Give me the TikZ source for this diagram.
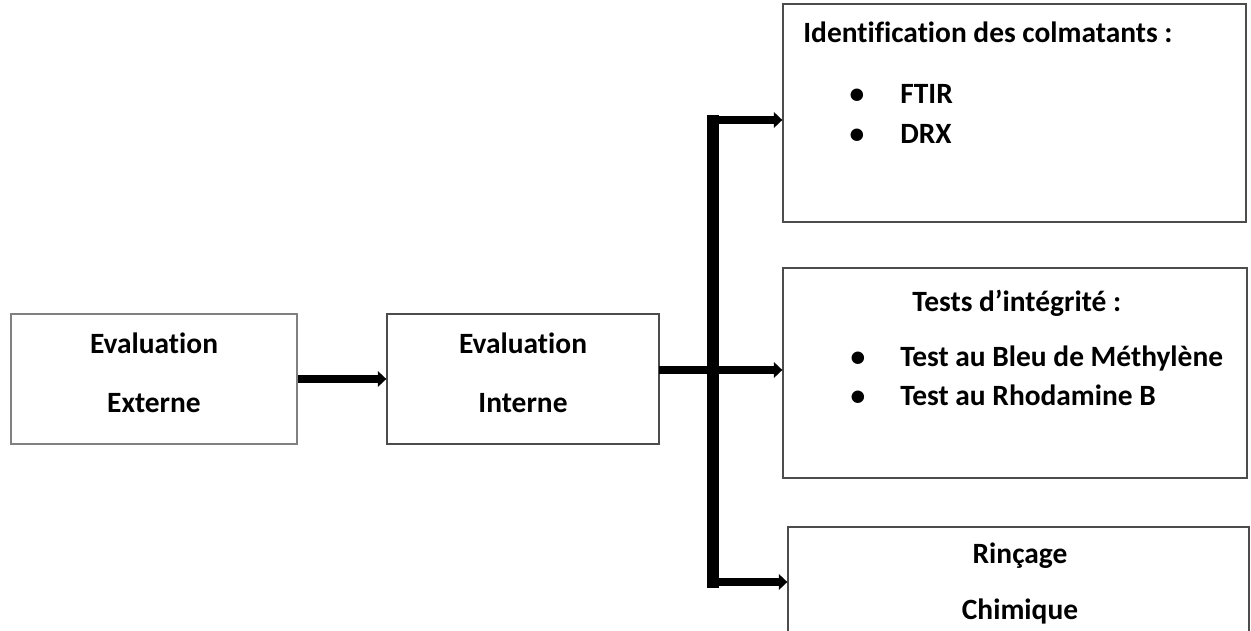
\documentclass[tikz,border=0pt]{standalone}
\usepackage{fontspec}
\setmainfont{Carlito}[Ligatures=CommonOff]
\usepackage{tikz}
\usetikzlibrary{arrows.meta}

\tikzset{
  box/.style={draw=black!70, line width=0.8pt, rectangle, inner sep=0pt},
  lbl/.style={anchor=base, inner sep=0pt, font=\bfseries\fontsize{16.75}{20}\selectfont},
  flow/.style={line width=4pt, -{Triangle[length=0.17cm,width=0.31cm]}},
  bus/.style={line width=6.3pt},
}

\begin{document}
\begin{tikzpicture}[x=0.02cm, y=-0.02cm]
      \clip (0,0) rectangle (1251,631);
       % boxes
       \node[box, draw=black!50, minimum width=5.72cm, minimum height=2.6cm] (eext) at (154,379) {};
       \node[box, minimum width=5.44cm, minimum height=2.6cm] (eint) at (523,379) {};
       \node[box, minimum width=9.26cm, minimum height=4.36cm] (ident) at (1014.5,113) {};
       \node[box, minimum width=9.28cm, minimum height=4.2cm] (integ) at (1015,373) {};
       \node[box, minimum width=9.22cm, minimum height=3.4cm] (rinc) at (1018.5,558+54) {};

       % labels
       \node[lbl] (eext1) at (154,354) {Evaluation};
       \node[lbl] (eext2) at (154,413) {Externe};
       \node[lbl] (eint1) at (523,354) {Evaluation};
       \node[lbl] (eint2) at (523,413) {Interne};
       \node[lbl, anchor=base west] (identt) at (803,43) {Identification des colmatants :};
       \node[lbl] (identb1) at (857,104) {•};
       \node[lbl, anchor=base west] (ident1) at (900,104) {FTIR};
       \node[lbl] (identb2) at (857,144) {•};
       \node[lbl, anchor=base west] (ident2) at (900,144) {DRX};
       \node[lbl, anchor=base west] (integt) at (912,312) {Tests d’intégrité :};
       \node[lbl] (integb1) at (858,367) {•};
       \node[lbl, anchor=base west] (integ1) at (900,367) {Test au Bleu de Méthylène};
       \node[lbl] (integb2) at (858,406) {•};
       \node[lbl, anchor=base west] (integ2) at (900,406) {Test au Rhodamine B};
       \node[lbl] (rinc1) at (1020,563) {Rinçage};
       \node[lbl] (rinc2) at (1020,619) {Chimique};

       % connectors
       \coordinate (bustop) at (713,115);
       \coordinate (busbot) at (713,588);
       \coordinate (j1) at (708,120);
       \coordinate (j2) at (659,370);
       \coordinate (j3) at (708,582);
       \draw[flow] (eext.east) -- (eint.west);
       \draw[bus] (bustop) -- (busbot);
       \draw[flow] (j1) -- (j1 -| ident.west);
       \draw[flow] (j2) -- (j2 -| integ.west);
       \draw[flow] (j3) -- (j3 -| rinc.west);
\end{tikzpicture}
\end{document}
